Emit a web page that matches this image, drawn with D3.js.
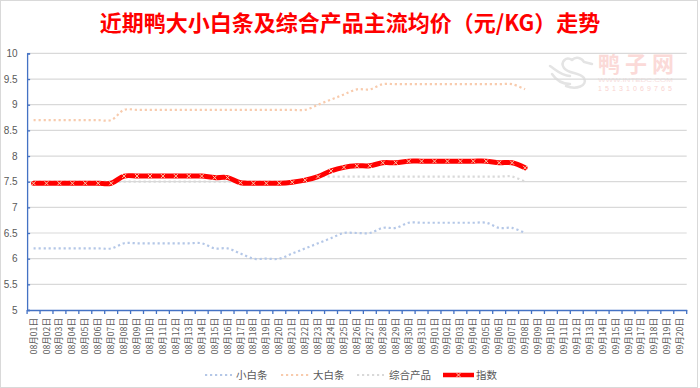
<!DOCTYPE html>
<html><head><meta charset="utf-8">
<script src="https://cdn.jsdelivr.net/npm/d3@7"></script>
<style>
html,body{margin:0;padding:0;background:#fff;}
svg{display:block;}
</style></head>
<body>
<svg id="chart" width="700" height="388"></svg>
<script>
const title = "近期鸭大小白条及综合产品主流均价（元/KG）走势";
const categories = [
 "08月01日","08月02日","08月03日","08月04日","08月05日","08月06日","08月07日","08月08日","08月09日","08月10日",
 "08月11日","08月12日","08月13日","08月14日","08月15日","08月16日","08月17日","08月18日","08月19日","08月20日",
 "08月21日","08月22日","08月23日","08月24日","08月25日","08月26日","08月27日","08月28日","08月29日","08月30日",
 "08月31日","09月01日","09月02日","09月03日","09月04日","09月05日","09月06日","09月07日","09月08日","09月09日",
 "09月10日","09月11日","09月12日","09月13日","09月14日","09月15日","09月16日","09月17日","09月18日","09月19日",
 "09月20日"
];
const yTicks = [5,5.5,6,6.5,7,7.5,8,8.5,9,9.5,10];
const smallWhite = [6.2,6.2,6.2,6.2,6.2,6.2,6.2,6.3,6.3,6.3,6.3,6.3,6.3,6.3,6.2,6.2,6.1,6.0,6.0,6.0,
  6.1,6.2,6.3,6.4,6.5,6.5,6.5,6.6,6.6,6.7,6.7,6.7,6.7,6.7,6.7,6.7,6.6,6.6,6.5];
const bigWhite = [8.7,8.7,8.7,8.7,8.7,8.7,8.7,8.9,8.9,8.9,8.9,8.9,8.9,8.9,8.9,8.9,8.9,8.9,8.9,8.9,
  8.9,8.9,9.0,9.1,9.2,9.3,9.3,9.4,9.4,9.4,9.4,9.4,9.4,9.4,9.4,9.4,9.4,9.4,9.3];
const combined = [7.5,7.5,7.5,7.5,7.5,7.5,7.5,7.5,7.5,7.5,7.5,7.5,7.5,7.5,7.5,7.5,7.5,7.5,7.5,7.5,
  7.5,7.5,7.6,7.6,7.6,7.6,7.6,7.6,7.6,7.6,7.6,7.6,7.6,7.6,7.6,7.6,7.6,7.6,7.5];
const indexVals = [7.47,7.47,7.47,7.47,7.47,7.47,7.47,7.61,7.61,7.61,7.61,7.61,7.61,7.61,7.58,7.58,7.48,7.47,7.47,7.47,
  7.49,7.53,7.6,7.71,7.78,7.81,7.81,7.87,7.87,7.9,7.9,7.9,7.9,7.9,7.9,7.9,7.87,7.87,7.77];
const seriesNames = ["小白条","大白条","综合产品","指数"];

const svg = d3.select("#chart");
const plotLeft = 27.1, plotRight = 686.7, plotTop = 53.4, plotBottom = 310;

svg.append("rect").attr("x",0.5).attr("y",0.5).attr("width",697).attr("height",387)
  .attr("fill","#fff").attr("stroke","#d9d9d9").attr("stroke-width",1);

const x = d3.scaleBand().domain(categories).range([plotLeft,plotRight]).padding(0);
const y = d3.scaleLinear().domain([5,10]).range([plotBottom,plotTop]);
const cx = i => x(categories[i]) + x.bandwidth()/2;

// watermark
const wm = svg.append("g");
wm.append("path").attr("d","M572,60 C566,56 560,62 564,68 C568,74 580,72 584,78 C588,86 576,90 566,86 M572,60 C576,56 582,58 584,62 L592,64 M550,66 C556,70 562,76 570,76 M552,74 C556,80 562,84 570,84")
  .attr("fill","none").attr("stroke","#e4e4e4").attr("stroke-width",2.5).attr("stroke-linecap","round");
wm.append("text").attr("x",598).attr("y",72).attr("textLength",76).attr("lengthAdjust","spacing")
  .attr("font-family","Noto Sans CJK SC").attr("font-weight","bold").attr("font-size",22).attr("fill","#fbdad8").text("鸭子网");
wm.append("text").attr("x",598).attr("y",81.5).attr("textLength",75).attr("lengthAdjust","spacingAndGlyphs")
  .attr("font-family","Liberation Sans").attr("font-size",5.5).attr("fill","#f7e0de").text("WWW.INTEDC.COM");
wm.append("text").attr("x",598).attr("y",91).attr("textLength",74).attr("lengthAdjust","spacing")
  .attr("font-family","Liberation Sans").attr("font-size",7).attr("fill","#f9d3d0").text("15131069765");

// title
svg.append("text").attr("x",350).attr("y",31).attr("text-anchor","middle")
  .attr("font-family","Noto Sans CJK SC").attr("font-weight","bold").attr("font-size",22)
  .attr("fill","#ff0000").text(title);

// gridlines
svg.append("g").selectAll("line").data(yTicks.filter(d=>d>5)).join("line")
  .attr("x1",plotLeft).attr("x2",plotRight).attr("y1",d=>y(d)).attr("y2",d=>y(d))
  .attr("stroke","#d9d9d9").attr("stroke-width",1.2);

// y axis
const yAxis = svg.append("g").attr("transform",`translate(${plotLeft},0)`)
  .call(d3.axisRight(y).tickValues(yTicks).tickSize(3).tickFormat(d3.format("")));
yAxis.select(".domain").attr("stroke","#4472c4").attr("stroke-width",1.3);
yAxis.selectAll(".tick line").attr("stroke","#4472c4").attr("stroke-width",1.3);
yAxis.selectAll(".tick text").attr("x",-9.5).attr("text-anchor","end")
  .attr("font-family","Liberation Sans").attr("font-size",10).attr("fill","#595959");

// x axis
const xAxis = svg.append("g").attr("transform",`translate(0,${plotBottom})`)
  .call(d3.axisBottom(x).tickSize(0).tickSizeOuter(0));
xAxis.select(".domain").attr("stroke","#4472c4").attr("stroke-width",1.3);
xAxis.selectAll(".tick text")
  .attr("transform","rotate(-90)").attr("x",-8).attr("y",0).attr("dy","0.35em")
  .attr("text-anchor","end").attr("font-family","Noto Sans CJK SC").attr("font-size",8.6).attr("fill","#595959");
const bounds = d3.range(categories.length+1).map(i => plotLeft + i*x.bandwidth());
svg.append("g").selectAll("line").data(bounds).join("line")
  .attr("x1",d=>d).attr("x2",d=>d).attr("y1",plotBottom).attr("y2",plotBottom+4)
  .attr("stroke","#4472c4").attr("stroke-width",1.3);

// lines
const line = d3.line().x((d,i)=>cx(i)).y(d=>y(d)).curve(d3.curveCatmullRom.alpha(0.5));
const dotted = [
  {vals: smallWhite, color:"#b4c7e7"},
  {vals: bigWhite, color:"#f8cbad"},
  {vals: combined, color:"#d9d9d9"}
];
dotted.forEach(s => {
  svg.append("path").attr("d",line(s.vals)).attr("fill","none")
    .attr("stroke",s.color).attr("stroke-width",2.2).attr("stroke-dasharray","2.2 2.8");
});
svg.append("path").attr("d",line(indexVals)).attr("fill","none")
  .attr("stroke","#ff0000").attr("stroke-width",5).attr("stroke-linecap","round").attr("stroke-linejoin","round");
const xMark = "M-2,-2L2,2M-2,2L2,-2";
svg.append("g").selectAll("path").data(indexVals).join("path")
  .attr("transform",(d,i)=>`translate(${cx(i)},${y(d)})`).attr("d",xMark)
  .attr("stroke","#f8cbad").attr("stroke-width",1).attr("fill","none");

// legend
const leg = svg.append("g").attr("font-family","Noto Sans CJK SC").attr("font-size",10.5).attr("fill","#595959");
const ly = 375;
const legItems = [
  {name: seriesNames[0], color:"#b4c7e7", x0:205, x1:232, tx:236},
  {name: seriesNames[1], color:"#f8cbad", x0:281, x1:309, tx:313},
  {name: seriesNames[2], color:"#d9d9d9", x0:357, x1:384, tx:389}
];
legItems.forEach(it => {
  leg.append("line").attr("x1",it.x0).attr("x2",it.x1).attr("y1",ly).attr("y2",ly)
    .attr("stroke",it.color).attr("stroke-width",2.2).attr("stroke-dasharray","2.2 2.8");
  leg.append("text").attr("x",it.tx).attr("y",ly).attr("dy","0.35em").text(it.name);
});
leg.append("line").attr("x1",443).attr("x2",474).attr("y1",ly).attr("y2",ly)
  .attr("stroke","#ff0000").attr("stroke-width",4.5);
leg.append("path").attr("transform",`translate(458.5,${ly})`).attr("d",xMark)
  .attr("stroke","#f8cbad").attr("stroke-width",1).attr("fill","none");
leg.append("text").attr("x",476).attr("y",ly).attr("dy","0.35em").text(seriesNames[3]);
</script>
</body></html>
